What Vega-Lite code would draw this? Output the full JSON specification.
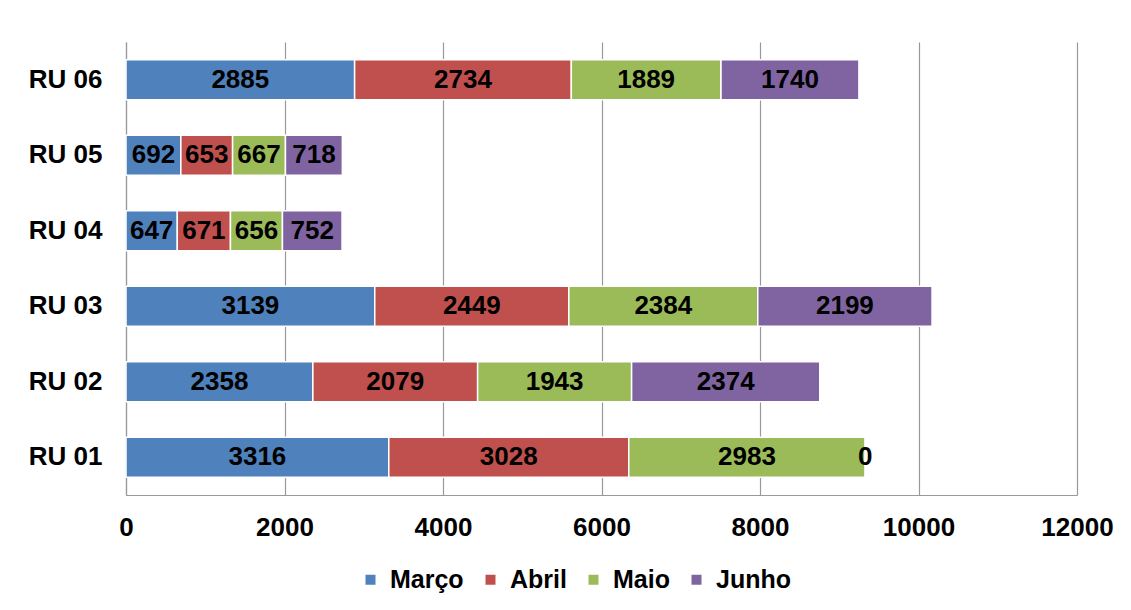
{
  "$schema": "https://vega.github.io/schema/vega-lite/v6.json",
  "width": 951,
  "height": 453,
  "autosize": {"type": "none"},
  "padding": {"left": 126, "top": 42, "right": 54, "bottom": 115},
  "background": "white",
  "config": {
    "view": {"stroke": null},
    "font": "Liberation Sans"
  },
  "data": {
    "values": [
      {"ru": "RU 06", "mes": "Março", "ord": 1, "v": 2885},
      {"ru": "RU 06", "mes": "Abril", "ord": 2, "v": 2734},
      {"ru": "RU 06", "mes": "Maio", "ord": 3, "v": 1889},
      {"ru": "RU 06", "mes": "Junho", "ord": 4, "v": 1740},
      {"ru": "RU 05", "mes": "Março", "ord": 1, "v": 692},
      {"ru": "RU 05", "mes": "Abril", "ord": 2, "v": 653},
      {"ru": "RU 05", "mes": "Maio", "ord": 3, "v": 667},
      {"ru": "RU 05", "mes": "Junho", "ord": 4, "v": 718},
      {"ru": "RU 04", "mes": "Março", "ord": 1, "v": 647},
      {"ru": "RU 04", "mes": "Abril", "ord": 2, "v": 671},
      {"ru": "RU 04", "mes": "Maio", "ord": 3, "v": 656},
      {"ru": "RU 04", "mes": "Junho", "ord": 4, "v": 752},
      {"ru": "RU 03", "mes": "Março", "ord": 1, "v": 3139},
      {"ru": "RU 03", "mes": "Abril", "ord": 2, "v": 2449},
      {"ru": "RU 03", "mes": "Maio", "ord": 3, "v": 2384},
      {"ru": "RU 03", "mes": "Junho", "ord": 4, "v": 2199},
      {"ru": "RU 02", "mes": "Março", "ord": 1, "v": 2358},
      {"ru": "RU 02", "mes": "Abril", "ord": 2, "v": 2079},
      {"ru": "RU 02", "mes": "Maio", "ord": 3, "v": 1943},
      {"ru": "RU 02", "mes": "Junho", "ord": 4, "v": 2374},
      {"ru": "RU 01", "mes": "Março", "ord": 1, "v": 3316},
      {"ru": "RU 01", "mes": "Abril", "ord": 2, "v": 3028},
      {"ru": "RU 01", "mes": "Maio", "ord": 3, "v": 2983},
      {"ru": "RU 01", "mes": "Junho", "ord": 4, "v": 0}
    ]
  },
  "transform": [
    {"stack": "v", "groupby": ["ru"], "sort": [{"field": "ord", "order": "ascending"}], "as": ["x0", "x1"]},
    {"calculate": "(datum.x0 + datum.x1) / 2", "as": "mid"}
  ],
  "encoding": {
    "y": {
      "field": "ru",
      "type": "nominal",
      "sort": ["RU 06", "RU 05", "RU 04", "RU 03", "RU 02", "RU 01"],
      "scale": {"paddingInner": 0.47, "paddingOuter": 0.235},
      "axis": {
        "title": null,
        "ticks": false,
        "labelFont": "Liberation Sans",
        "labelFontSize": 26,
        "labelFontWeight": "bold",
        "labelColor": "black",
        "labelPadding": 24,
        "domainColor": "#999999",
        "domainWidth": 1.2,
        "grid": false
      }
    }
  },
  "layer": [
    {
      "mark": {"type": "bar", "stroke": "white", "strokeWidth": 1.5},
      "encoding": {
        "x": {
          "field": "x0",
          "type": "quantitative",
          "scale": {"domain": [0, 12000], "nice": false},
          "axis": {
            "title": null,
            "values": [0, 2000, 4000, 6000, 8000, 10000, 12000],
            "format": "d",
            "ticks": false,
            "labelFont": "Liberation Sans",
            "labelFontSize": 26,
            "labelFontWeight": "bold",
            "labelColor": "black",
            "labelPadding": 19,
            "labelFlush": false,
            "domainColor": "#999999",
            "domainWidth": 1.2,
            "grid": true,
            "gridColor": "#999999",
            "gridWidth": 1.2
          }
        },
        "x2": {"field": "x1"},
        "color": {
          "field": "mes",
          "type": "nominal",
          "sort": ["Março", "Abril", "Maio", "Junho"],
          "scale": {
            "domain": ["Março", "Abril", "Maio", "Junho"],
            "range": ["#4F81BD", "#C0504D", "#9BBB59", "#8064A2"]
          },
          "legend": {
            "title": null,
            "orient": "none",
            "direction": "horizontal",
            "legendX": 232,
            "legendY": 525,
            "symbolType": "square",
            "symbolSize": 100,
            "symbolStrokeWidth": 0,
            "labelFont": "Liberation Sans",
            "labelFontSize": 25,
            "labelFontWeight": "bold",
            "labelColor": "black",
            "labelOffset": 7,
            "columnPadding": 14
          }
        }
      }
    },
    {
      "mark": {"type": "text", "font": "Liberation Sans", "fontSize": 26, "fontWeight": "bold", "color": "black", "baseline": "middle", "align": "center"},
      "encoding": {
        "x": {"field": "mid", "type": "quantitative"},
        "text": {"field": "v", "type": "quantitative", "format": "d"}
      }
    }
  ]
}
